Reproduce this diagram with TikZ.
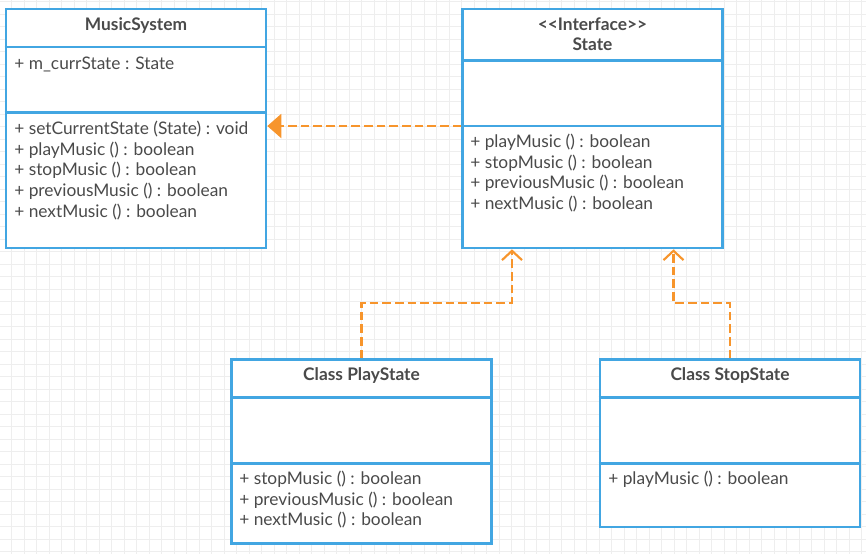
\documentclass[tikz,border=0pt]{standalone}
\usepackage{fontspec}
\setmainfont{Lato}
\usetikzlibrary{arrows.meta}
\definecolor{umlblue}{HTML}{42A6E2}
\definecolor{umlorange}{HTML}{F7952C}
\definecolor{umltext}{HTML}{4A4A4A}
\definecolor{gridgray}{HTML}{EEEEEE}
\begin{document}
\begin{tikzpicture}[x=0.75pt,y=-0.75pt,
  umlbox/.style={draw=umlblue,line width=2pt,fill=white,inner sep=0pt},
  divider/.style={draw=umlblue,line width=2pt},
  title/.style={font=\fontsize{13}{15}\selectfont\bfseries,text=umltext,anchor=base,inner sep=0pt},
  member/.style={font=\fontsize{13}{15}\selectfont,text=umltext,anchor=base west,inner sep=0pt},
  dep/.style={draw=umlorange,line width=1.6pt,dash pattern=on 6.5pt off 3pt},
  realize/.style={dep,-{Straight Barb[length=7pt,width=15pt]}},
  uses/.style={dep,-{Triangle[length=10.5pt,width=18pt]}},
]
\useasboundingbox (0,0) rectangle (866,554);
\fill[white] (0,0) rectangle (866,554);
\foreach \k in {0,...,68} \draw[gridgray,line width=0.75pt] ({11.5+12.5*\k},0) -- ({11.5+12.5*\k},554);
\foreach \k in {0,...,44} \draw[gridgray,line width=0.75pt] (0,{1.7+12.5*\k}) -- (866,{1.7+12.5*\k});

% MusicSystem
\node[umlbox,minimum width=195pt,minimum height=179.25pt] (ms) at (136,128.5) {};
\draw[divider] (ms.west |- 0,47) -- (ms.east |- 0,47);
\draw[divider] (ms.west |- 0,112.5) -- (ms.east |- 0,112.5);
\node[title] (msname) at (136,30) {MusicSystem};
\node[member] (msattr) at (14,69) {+ m\_currState : State};
\foreach \t [count=\i] in {{+ setCurrentState (State) : void},{+ playMusic () : boolean},{+ stopMusic () : boolean},{+ previousMusic () : boolean},{+ nextMusic () : boolean}}
  \node[member] (msop\i) at (14,{134.3+20.75*(\i-1)}) {\t};

% State
\node[umlbox,minimum width=195pt,minimum height=179.25pt] (st) at (592.5,128.5) {};
\draw[divider] (st.west |- 0,60.5) -- (st.east |- 0,60.5);
\draw[divider] (st.west |- 0,126) -- (st.east |- 0,126);
\node[title] (stster) at (592.5,30) {<\kern0pt<Interface>\kern0pt>};
\node[title] (stname) at (592.5,50.5) {State};
\foreach \t [count=\i] in {{+ playMusic () : boolean},{+ stopMusic () : boolean},{+ previousMusic () : boolean},{+ nextMusic () : boolean}}
  \node[member] (stop\i) at (470,{147.3+20.75*(\i-1)}) {\t};

% PlayState
\node[umlbox,minimum width=195pt,minimum height=138pt] (ps) at (361.5,451.5) {};
\draw[divider] (ps.west |- 0,397.7) -- (ps.east |- 0,397.7);
\draw[divider] (ps.west |- 0,463.3) -- (ps.east |- 0,463.3);
\node[title] (psname) at (361.5,380) {Class PlayState};
\foreach \t [count=\i] in {{+ stopMusic () : boolean},{+ previousMusic () : boolean},{+ nextMusic () : boolean}}
  \node[member] (psop\i) at (239,{484.3+20.75*(\i-1)}) {\t};

% StopState
\node[umlbox,minimum width=195pt,minimum height=125.6pt] (sp) at (730,443.25) {};
\draw[divider] (sp.west |- 0,397.7) -- (sp.east |- 0,397.7);
\draw[divider] (sp.west |- 0,463.3) -- (sp.east |- 0,463.3);
\node[title] (spname) at (730,380) {Class StopState};
\node[member] (spop1) at (608,484.3) {+ playMusic () : boolean};

% connectors
\draw[uses] (st.west |- 0,126) -- (ms.east |- 0,126);
\coordinate (b1) at (361.5,303);
\coordinate (b2) at (512,303);
\draw[realize] (ps.north) -- (b1) -- (b2) -- (st.south -| b2);
\coordinate (b3) at (730,303);
\coordinate (b4) at (673.5,303);
\draw[realize] (sp.north) -- (b3) -- (b4) -- (st.south -| b4);
\end{tikzpicture}
\end{document}
